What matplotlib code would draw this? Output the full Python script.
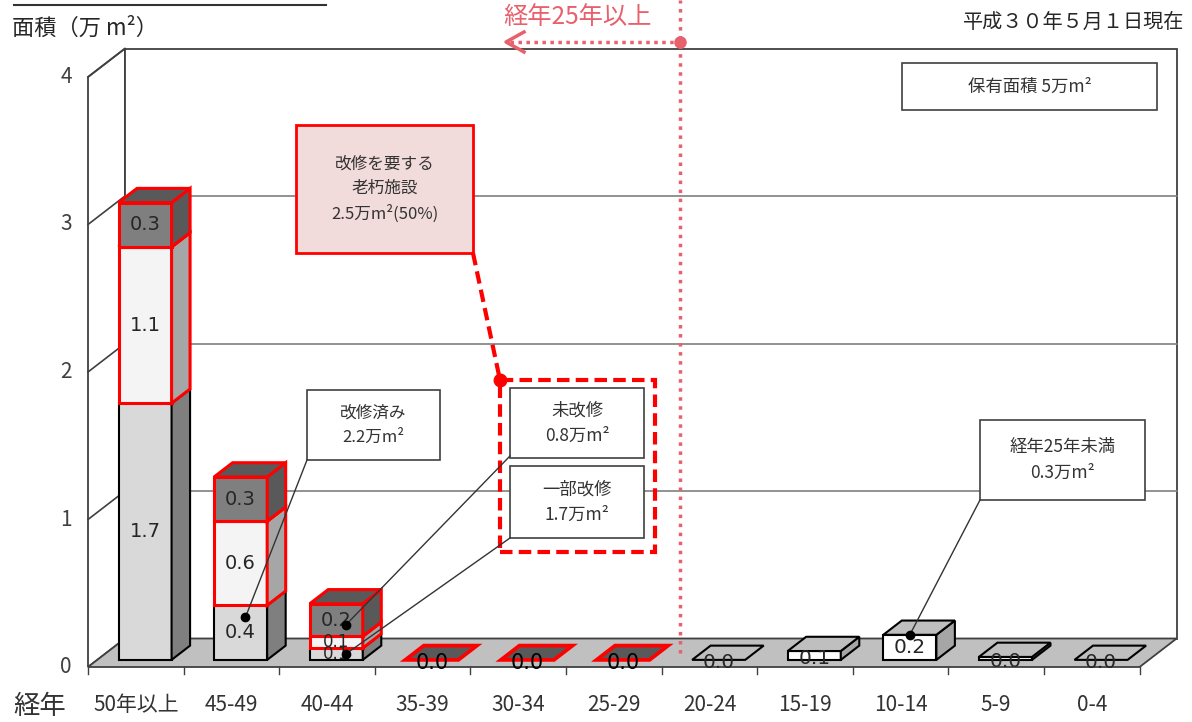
import matplotlib
matplotlib.use('Agg')
import matplotlib.pyplot as plt
from matplotlib.patches import Polygon, Rectangle

plt.rcParams['font.family'] = ['Noto Sans CJK JP', 'DejaVu Sans']

# ---- data ----
categories = ['50年以上', '45-49', '40-44', '35-39', '30-34', '25-29',
              '20-24', '15-19', '10-14', '5-9', '0-4']
# 経年25年以上 (first 6 categories), stacked bottom -> top
renovated = [1.74, 0.37, 0.08, 0.0, 0.0, 0.0]     # 改修済み
partial = [1.06, 0.57, 0.08, 0.0, 0.0, 0.0]       # 一部改修
unrenovated = [0.30, 0.30, 0.22, 0.0, 0.0, 0.0]   # 未改修
# 経年25年未満 (last 5 categories)
recent = [0.0, 0.06, 0.17, 0.02, 0.0]
yticks = [0, 1, 2, 3, 4]

# ---- layout (pixel calibration of the pseudo-3d frame) ----
W, H = 1192, 722
X0, CW = 88, 95.6      # px of first category edge, px per category
Y0, VH = 667, 147.5    # px of value 0 (front), px per unit
DX, DY = 37 / CW, 28.5 / VH   # full depth of the floor in data units
BW = 0.555                     # bar width (categories)
NUM = 'DejaVu Sans'


def px(x, y):
    return (x - X0) / CW, (Y0 - y) / VH


fig = plt.figure(figsize=(W / 100, H / 100), dpi=100)
ax = fig.add_axes([0, 0, 1, 1])
ax.set_xlim(-X0 / CW, (W - X0) / CW)
ax.set_ylim((Y0 - H) / VH, Y0 / VH)
ax.axis('off')

n = len(categories)
ymax = yticks[-1]

# walls and floor
ax.add_patch(Polygon([(0, 0), (DX, DY), (DX, ymax + DY), (0, ymax)],
                     fc='white', ec='#404040', lw=1.3, zorder=1))
ax.add_patch(Rectangle((DX, DY), n, ymax, fc='white', ec='#404040', lw=1.3, zorder=1))
ax.add_patch(Polygon([(0, 0), (n, 0), (n + DX, DY), (DX, DY)],
                     fc='#c0c0c0', ec='#404040', lw=1.3, zorder=2))
for v in yticks[1:-1]:
    ax.plot([DX, n + DX], [v + DY, v + DY], color='#7f7f7f', lw=1.2, zorder=1.5)
for v in yticks[1:]:
    ax.plot([0, DX], [v, v + DY], color='#404040', lw=1.2, zorder=1.5)
for v in yticks:
    ax.text(-0.17, v, str(v), ha='right', va='center', fontsize=15, color='#404040')
for k in range(n + 1):
    ax.plot([k, k], [0, -0.05], color='#404040', lw=1, zorder=2)
for i, c in enumerate(categories):
    ax.text(i + 0.5, -0.26, c, ha='center', va='center', fontsize=15, color='#333333')
ax.text(*px(40, 706), '経年', ha='center', va='center', fontsize=19, color='#333333')


def box(i, y0, y1, front, side, top, ec, lw, z=3):
    fx = i + 0.5 - BW / 2 + DX * 0.25
    b0, b1 = y0 + DY * 0.25, y1 + DY * 0.25
    bx, by = DX * 0.5, DY * 0.5
    if y1 > y0:
        ax.add_patch(Polygon([(fx, b0), (fx + BW, b0), (fx + BW, b1), (fx, b1)],
                             fc=front, ec=ec, lw=lw, zorder=z))
        ax.add_patch(Polygon([(fx + BW, b0), (fx + BW + bx, b0 + by),
                              (fx + BW + bx, b1 + by), (fx + BW, b1)],
                             fc=side, ec=ec, lw=lw, zorder=z))
    ax.add_patch(Polygon([(fx, b1), (fx + BW, b1), (fx + BW + bx, b1 + by), (fx + bx, b1 + by)],
                         fc=top, ec=ec, lw=lw, zorder=z))
    return fx + BW / 2, (b0 + b1) / 2


styles = [
    (renovated, '#d9d9d9', '#7f7f7f', '#a6a6a6', 'black', 1.5),
    (partial, '#f4f4f4', '#a6a6a6', '#d9d9d9', 'red', 2.2),
    (unrenovated, '#7f7f7f', '#595959', '#595959', 'red', 2.2),
]
dots = {}
for i in range(len(renovated)):
    base = 0.0
    total = renovated[i] + partial[i] + unrenovated[i]
    if total == 0:
        _, fc, sc, tc, ec, lw = styles[-1]
        cx, cy = box(i, 0, 0, fc, sc, tc, ec, lw + 0.5)
        ax.text(cx, cy - 0.02, '0.0', ha='center', va='center', fontsize=15,
                family=NUM, color='black', zorder=5)
        continue
    for k, (vals, fc, sc, tc, ec, lw) in enumerate(styles):
        v = vals[i]
        cx, cy = box(i, base, base + v, fc, sc, tc, ec, lw, z=3 + k * 0.1)
        ax.text(cx, cy, f'{v:.1f}', ha='center', va='center',
                fontsize=14 if v > 0.15 else 12, family=NUM, color='#262626', zorder=5)
        dots[(i, k)] = (cx, base, v)
        base += v

off = len(renovated)
for j, v in enumerate(recent):
    cx, cy = box(off + j, 0, v, 'white', '#a6a6a6', '#bfbfbf', 'black', 1.5)
    ax.text(cx, cy - (0.02 if v < 0.1 else 0), f'{v:.1f}', ha='center', va='center',
            fontsize=14.5, family=NUM, color='#262626', zorder=5)
    dots[('r', j)] = (cx, 0, v)


# ---- annotations ----
def note(x0, y0, x1, y1, lines, fc='white', ec='#404040', lw=1.2, fs=12):
    (ax0, ay0), (ax1, ay1) = px(x0, y1), px(x1, y0)
    ax.add_patch(Rectangle((ax0, ay0), ax1 - ax0, ay1 - ay0, fc=fc, ec=ec, lw=lw, zorder=6))
    ax.text((ax0 + ax1) / 2, (ay0 + ay1) / 2, '\n'.join(lines), ha='center', va='center',
            fontsize=fs, color='#333333', linespacing=1.55, zorder=7)


def leader(start, cx, base, v, frac, dxf=0.05):
    ex, ey = cx + dxf, base + v * frac + DY * 0.25
    sx, sy = px(*start)
    ax.plot([sx, ex], [sy, ey], color='#333333', lw=1, zorder=8)
    ax.plot(ex, ey, 'o', color='black', ms=6, zorder=9)


note(902, 63, 1157, 110, ['保有面積 5万m²'], fs=12.5)
note(296, 125, 473, 253, ['改修を要する', '老朽施設', '2.5万m²(50%)'],
     fc='#f2dcdb', ec='red', lw=2, fs=12)
note(307, 390, 440, 460, ['改修済み', '2.2万m²'])
note(510, 388, 644, 458, ['未改修', '0.8万m²'], fs=12.5)
note(510, 466, 644, 538, ['一部改修', '1.7万m²'], fs=12.5)
note(980, 420, 1145, 500, ['経年25年未満', '0.3万m²'], fs=12.5)

# dashed red group box and connector
(rx0, ry0), (rx1, ry1) = px(500, 552), px(655, 380)
ax.add_patch(Rectangle((rx0, ry0), rx1 - rx0, ry1 - ry0, fill=False, ec='red',
                       lw=3, ls=(0, (3, 1.5)), zorder=6))
c0, c1 = px(473, 253), px(500, 380)
ax.plot([c0[0], c1[0]], [c0[1], c1[1]], color='red', lw=3, ls=(0, (3, 1.5)), zorder=6)
ax.plot(*c1, 'o', color='red', ms=9, zorder=7)

leader((307, 460), *dots[(1, 0)], 0.78)
leader((510, 456), *dots[(2, 2)], 0.35, 0.1)
leader((510, 538), *dots[(2, 0)], 0.5, 0.1)
leader((980, 500), *dots[('r', 2)], 1.0, 0.0)

# 25-year boundary
bx = off + DX * 0.5
pink = '#e8606c'
ax.plot([bx, bx], [DY * 0.5, px(0, 0)[1]], color=pink, lw=2.5, ls=(0, (1, 1.6)), zorder=4)
ay = px(0, 42)[1]
ax.plot([px(510, 0)[0], bx], [ay, ay], color=pink, lw=2.5, ls=(0, (1, 1.3)), zorder=9)
ax.plot([px(524, 0)[0], px(506, 0)[0], px(524, 0)[0]],
        [px(0, 32)[1], ay, px(0, 52)[1]], color=pink, lw=2.5, zorder=9)
ax.plot(bx, ay, 'o', color=pink, ms=8, zorder=9)
ax.text(*px(578, 17), '経年25年以上', ha='center', va='center', fontsize=17.5,
        fontweight='normal', color=pink, zorder=9)

# headers
ax.text(*px(12, 28), '面積（万 m²）', ha='left', va='center', fontsize=16, color='#262626')
ax.text(*px(1184, 22), '平成３０年５月１日現在', ha='right', va='center', fontsize=14.5,
        color='#262626')
ax.plot([px(14, 0)[0], px(326, 0)[0]], [px(0, 5)[1]] * 2, color='#333333', lw=1.5)

fig.savefig('out.png', dpi=100)
